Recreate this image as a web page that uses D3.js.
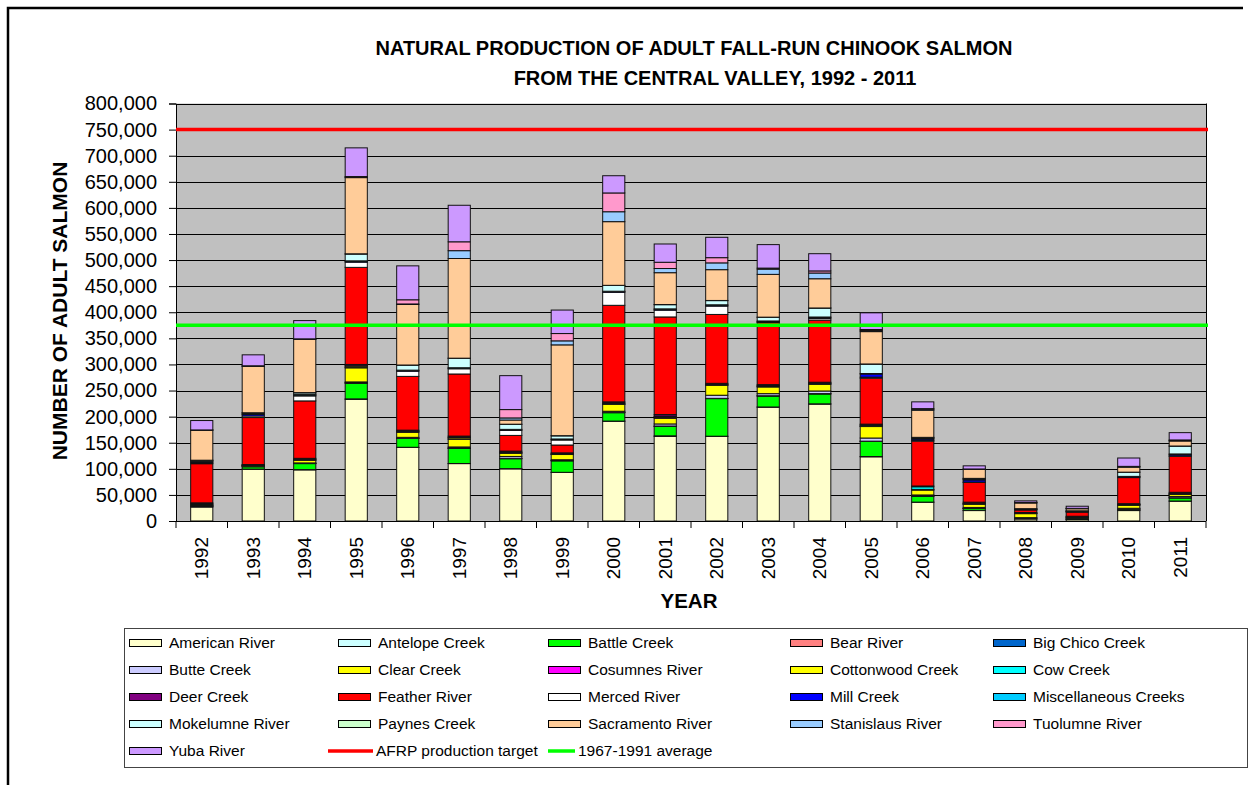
<!DOCTYPE html>
<html>
<head>
<meta charset="utf-8">
<script src="https://cdn.jsdelivr.net/npm/d3@7"></script>
<style>
  body { margin: 0; background: #fff; }
  text { font-family: "Liberation Sans", Arial, sans-serif; fill: #000; }
</style>
</head>
<body>
<svg id="chart"></svg>
<script>
// Natural production of adult fall-run Chinook salmon, Central Valley 1992-2011

const years = ['1992', '1993', '1994', '1995', '1996', '1997', '1998', '1999', '2000', '2001',
  '2002', '2003', '2004', '2005', '2006', '2007', '2008', '2009', '2010', '2011'];

const seriesNames = ['American River', 'Antelope Creek', 'Battle Creek', 'Bear River', 'Big Chico Creek',
  'Butte Creek', 'Clear Creek', 'Cosumnes River', 'Cottonwood Creek', 'Cow Creek',
  'Deer Creek', 'Feather River', 'Merced River', 'Mill Creek', 'Miscellaneous Creeks',
  'Mokelumne River', 'Paynes Creek', 'Sacramento River', 'Stanislaus River', 'Tuolumne River',
  'Yuba River'];

const seriesColors = ['#FFFFCC', '#CCFFFF', '#00FF00', '#FF8080', '#0066CC',
  '#CCCCFF', '#FFFF00', '#FF00FF', '#FFFF00', '#00FFFF',
  '#800080', '#FF0000', '#FFFFFF', '#0000FF', '#00CCFF',
  '#CCFFFF', '#CCFFCC', '#FFCC99', '#99CCFF', '#FF99CC',
  '#CC99FF'];

// values per river, one per year
const americanRiver = [27000, 99000, 98000, 233000, 141000, 110000, 100000, 93000, 191000, 162000, 162000, 218000, 224000, 123000, 36000, 20000, 4000, 3000, 20000, 38000];
const antelopeCreek = [100, 500, 500, 1000, 300, 200, 300, 300, 500, 1200, 500, 500, 500, 600, 200, 300, 100, 100, 200, 300];
const battleCreek = [1500, 4500, 11500, 30000, 17000, 29000, 19000, 22000, 16000, 18000, 72000, 21000, 19000, 29000, 11500, 3500, 1500, 800, 2500, 6000];
const bearRiver = [0, 0, 300, 500, 200, 200, 500, 300, 500, 300, 200, 200, 300, 200, 100, 100, 0, 0, 100, 100];
const bigChicoCreek = [200, 100, 200, 500, 300, 500, 400, 300, 300, 500, 300, 300, 300, 200, 100, 100, 0, 0, 100, 200];
const butteCreek = [1000, 1000, 800, 1500, 1500, 2000, 3500, 1500, 2000, 4000, 6000, 4000, 5000, 6000, 2000, 2000, 800, 1000, 1500, 2500];
const clearCreek = [1200, 1000, 5000, 27000, 10000, 15000, 6000, 10000, 13000, 11000, 19000, 13000, 13000, 22000, 9600, 6000, 7700, 2000, 6000, 4000];
const cosumnesRiver = [0, 300, 300, 1000, 300, 300, 300, 200, 500, 1000, 300, 300, 300, 300, 100, 100, 0, 0, 100, 100];
const cottonwoodCreek = [1500, 600, 1500, 2500, 1500, 2500, 1500, 1000, 1500, 2000, 1500, 1500, 1500, 2000, 1000, 1500, 500, 500, 700, 800];
const cowCreek = [300, 200, 500, 500, 500, 1000, 500, 500, 1000, 1000, 500, 500, 500, 800, 5000, 500, 200, 200, 500, 1000];
const deerCreek = [2000, 1000, 1500, 2500, 1500, 2000, 2000, 1500, 2000, 3000, 1500, 2000, 1500, 1500, 1500, 2000, 1500, 1500, 1500, 2000];
const featherRiver = [75000, 90000, 110000, 186000, 103000, 119000, 30000, 15000, 185000, 187000, 132000, 119000, 119000, 88000, 86000, 38000, 5000, 8000, 50000, 69000];
const mercedRiver = [1500, 3000, 9600, 10000, 10000, 10000, 9600, 9600, 25000, 13000, 16000, 1000, 3000, 2000, 1500, 500, 300, 400, 800, 1000];
const millCreek = [2000, 3000, 1500, 1500, 1000, 1000, 1000, 1000, 1000, 1500, 1500, 1000, 2000, 6000, 2500, 4000, 1000, 1000, 1000, 2500];
const miscCreeks = [1500, 1000, 1500, 1000, 1000, 1000, 1000, 1000, 1000, 1000, 1000, 1000, 1000, 1000, 1000, 1000, 500, 500, 500, 1000];
const mokelumneRiver = [1500, 2000, 3000, 13000, 9600, 18000, 9600, 6000, 11000, 8000, 8000, 7000, 17000, 18000, 2000, 2000, 500, 500, 8000, 15000];
const paynesCreek = [200, 200, 300, 500, 200, 300, 300, 300, 300, 300, 300, 300, 300, 300, 200, 100, 0, 0, 100, 200];
const sacramentoRiver = [57500, 89000, 102000, 146000, 116000, 191000, 8000, 174000, 122000, 61000, 59000, 82000, 56000, 62000, 52000, 17000, 11000, 4000, 9600, 9600];
const stanislausRiver = [300, 500, 500, 1000, 1000, 15000, 4000, 7700, 19000, 8000, 13000, 10000, 11000, 2000, 2000, 500, 500, 500, 1000, 1000];
const tuolumneRiver = [200, 500, 500, 1000, 8000, 17000, 16000, 14000, 36000, 12000, 10000, 2000, 4000, 2000, 1000, 500, 500, 300, 500, 1000];
const yubaRiver = [18000, 21000, 35000, 55000, 65000, 70000, 65000, 45000, 33000, 35000, 39000, 45000, 33000, 32000, 13000, 6000, 3000, 4000, 16000, 14000];

const seriesValues = [americanRiver, antelopeCreek, battleCreek, bearRiver, bigChicoCreek,
  butteCreek, clearCreek, cosumnesRiver, cottonwoodCreek, cowCreek,
  deerCreek, featherRiver, mercedRiver, millCreek, miscCreeks,
  mokelumneRiver, paynesCreek, sacramentoRiver, stanislausRiver, tuolumneRiver,
  yubaRiver];

// reference lines
const refLineNames = ['AFRP production target', '1967-1991 average'];
const refLineValues = [750000, 375000];
const refLineColors = ['#FF0000', '#00FF00'];

const yTickValues = [0, 50000, 100000, 150000, 200000, 250000, 300000, 350000, 400000,
  450000, 500000, 550000, 600000, 650000, 700000, 750000, 800000];

const W = 1253, H = 785;
const plot = { left: 176, right: 1206, top: 103.5, bottom: 521 };

const svg = d3.select('#chart')
  .attr('width', W)
  .attr('height', H);

svg.append('rect').attr('width', W).attr('height', H).attr('fill', '#fff');

// outer frame (only top and left edges are visible)
svg.append('path')
  .attr('d', 'M8,785V8H1243')
  .attr('fill', 'none')
  .attr('stroke', '#000')
  .attr('stroke-width', 2.5);

// table for d3.stack
const table = years.map((yr, i) => {
  const row = { year: yr };
  seriesNames.forEach((name, s) => { row[name] = seriesValues[s][i]; });
  return row;
});

const stacked = d3.stack().keys(seriesNames)(table);

const x = d3.scaleBand()
  .domain(years)
  .range([plot.left, plot.right])
  .paddingInner(0.57)
  .paddingOuter(0.285);

const y = d3.scaleLinear()
  .domain([0, 800000])
  .range([plot.bottom, plot.top]);

// plot background
svg.append('rect')
  .attr('x', plot.left)
  .attr('y', plot.top)
  .attr('width', plot.right - plot.left)
  .attr('height', plot.bottom - plot.top)
  .attr('fill', '#C0C0C0');

// gridlines
svg.append('g')
  .selectAll('line')
  .data(yTickValues.filter(d => d > 0))
  .join('line')
  .attr('x1', plot.left)
  .attr('x2', plot.right)
  .attr('y1', d => Math.round(y(d)) + 0.5)
  .attr('y2', d => Math.round(y(d)) + 0.5)
  .attr('stroke', '#000')
  .attr('stroke-width', 1);

// right border of the plot
svg.append('line')
  .attr('x1', plot.right + 0.5).attr('x2', plot.right + 0.5)
  .attr('y1', plot.top).attr('y2', plot.bottom)
  .attr('stroke', '#000');

// stacked bars
svg.append('g')
  .selectAll('g')
  .data(stacked)
  .join('g')
  .attr('fill', (d, i) => seriesColors[i])
  .selectAll('rect')
  .data(d => d)
  .join('rect')
  .attr('x', d => x(d.data.year))
  .attr('y', d => y(d[1]))
  .attr('width', x.bandwidth())
  .attr('height', d => y(d[0]) - y(d[1]))
  .attr('stroke', '#111')
  .attr('stroke-width', 1);

// y axis
const yAxis = svg.append('g')
  .attr('transform', `translate(${plot.left},0)`)
  .call(d3.axisLeft(y).tickValues(yTickValues).tickSize(7).tickPadding(12).tickFormat(d3.format(',')));
yAxis.selectAll('text').style('font-size', '20px').attr('fill', '#000');
yAxis.selectAll('line').attr('stroke', '#000');
yAxis.select('.domain').attr('stroke', '#000');

// x axis: line, ticks at category boundaries, rotated labels
const xAxis = svg.append('g');
xAxis.append('line')
  .attr('x1', plot.left).attr('x2', plot.right)
  .attr('y1', plot.bottom + 0.5).attr('y2', plot.bottom + 0.5)
  .attr('stroke', '#000');
xAxis.selectAll('line.tick')
  .data(d3.range(years.length + 1))
  .join('line')
  .attr('class', 'tick')
  .attr('x1', i => plot.left + i * x.step())
  .attr('x2', i => plot.left + i * x.step())
  .attr('y1', plot.bottom)
  .attr('y2', plot.bottom + 7)
  .attr('stroke', '#000');
xAxis.selectAll('text')
  .data(years)
  .join('text')
  .attr('transform', d => `translate(${x(d) + x.bandwidth() / 2},537) rotate(-90)`)
  .attr('text-anchor', 'end')
  .attr('dy', '0.35em')
  .style('font-size', '19px')
  .text(d => d);

// reference lines
svg.append('g')
  .selectAll('line')
  .data(refLineValues)
  .join('line')
  .attr('x1', plot.left)
  .attr('x2', plot.right + 2)
  .attr('y1', d => y(d))
  .attr('y2', d => y(d))
  .attr('stroke', (d, i) => refLineColors[i])
  .attr('stroke-width', 3.5);

// titles
svg.append('text')
  .attr('x', 694).attr('y', 55)
  .attr('text-anchor', 'middle')
  .style('font-size', '20px').style('font-weight', 'bold')
  .text('NATURAL PRODUCTION OF ADULT FALL-RUN CHINOOK SALMON');
svg.append('text')
  .attr('x', 715).attr('y', 85)
  .attr('text-anchor', 'middle')
  .style('font-size', '20px').style('font-weight', 'bold')
  .text('FROM THE CENTRAL VALLEY, 1992 - 2011');

svg.append('text')
  .attr('transform', 'translate(60,311) rotate(-90)')
  .attr('text-anchor', 'middle')
  .attr('dy', '0.35em')
  .style('font-size', '21px').style('font-weight', 'bold')
  .text('NUMBER OF ADULT SALMON');

svg.append('text')
  .attr('x', 689).attr('y', 608)
  .attr('text-anchor', 'middle')
  .style('font-size', '20.5px').style('font-weight', 'bold')
  .text('YEAR');

// legend
const legend = svg.append('g');
legend.append('rect')
  .attr('x', 124.5).attr('y', 628.5)
  .attr('width', 1123).attr('height', 139)
  .attr('fill', '#fff')
  .attr('stroke', '#444');

const colX = [129, 338, 548, 790, 993];
const rowY = [643, 670, 697, 724, 751];

const legendItems = seriesNames.map((name, i) => ({ name, color: seriesColors[i], kind: 'box' }))
  .concat(refLineNames.map((name, i) => ({ name, color: refLineColors[i], kind: 'line' })));

legendItems.forEach((item, i) => {
  const cx = colX[i % 5];
  const cy = rowY[Math.floor(i / 5)];
  if (item.kind === 'box') {
    legend.append('rect')
      .attr('x', cx + 0.5).attr('y', cy - 3.5)
      .attr('width', 32).attr('height', 7)
      .attr('fill', item.color)
      .attr('stroke', '#000');
    legend.append('text')
      .attr('x', cx + 40).attr('y', cy).attr('dy', '0.35em')
      .style('font-size', '15.5px')
      .text(item.name);
  } else {
    // line entries sit a little differently in the original legend
    const x1 = i % 5 === 1 ? cx - 10 : cx;
    const x2 = i % 5 === 1 ? cx + 35 : cx + 27;
    legend.append('line')
      .attr('x1', x1).attr('x2', x2)
      .attr('y1', cy).attr('y2', cy)
      .attr('stroke', item.color)
      .attr('stroke-width', 3.5);
    legend.append('text')
      .attr('x', x2 + 3).attr('y', cy).attr('dy', '0.35em')
      .style('font-size', '15.5px')
      .text(item.name);
  }
});
</script>
</body>
</html>
